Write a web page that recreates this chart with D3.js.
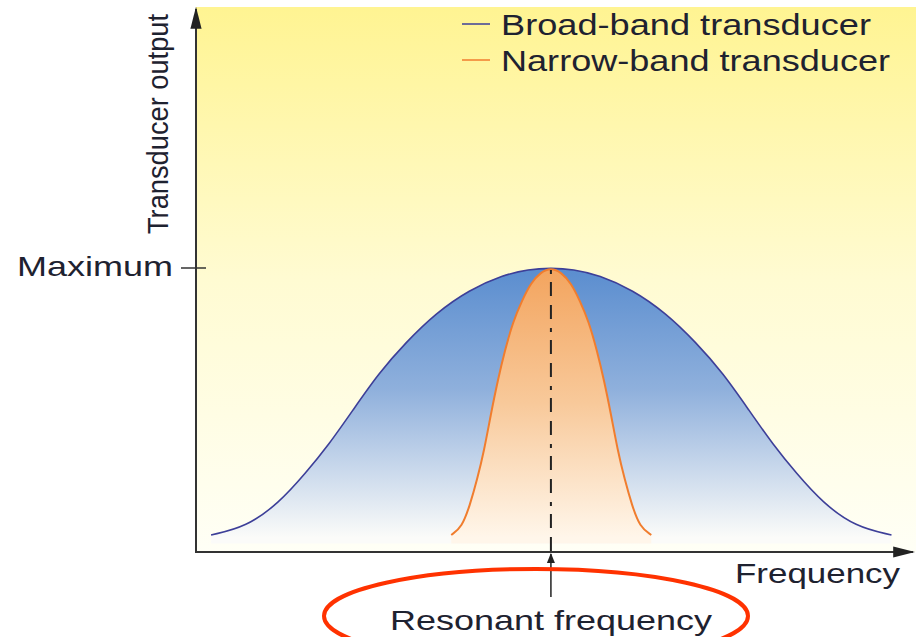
<!DOCTYPE html>
<html>
<head>
<meta charset="utf-8">
<script src="https://cdn.jsdelivr.net/npm/d3@7"></script>
<style>
  body { margin: 0; background: #fff; }
  svg { display: block; font-family: "Liberation Sans", Arial, sans-serif; }
</style>
</head>
<body>
<div id="chart"></div>
<script>
// frequency in arbitrary units (0-100), output as % of maximum
const broadFreq = [2.1, 7.0, 11.6, 15.3, 18.5, 21.9, 25.5, 29.3, 33.5, 38.1, 42.8, 46.4, 49.5, 52.6, 56.2, 60.9, 65.5, 69.7, 73.5, 77.1, 80.5, 83.7, 87.4, 92.0, 97.0];
const broadOutput = [6.0, 8.8, 17.3, 27.8, 37.7, 50.0, 63.0, 73.9, 84.2, 92.3, 97.5, 99.6, 100, 99.6, 97.5, 92.3, 84.2, 73.9, 63.0, 50.0, 37.7, 27.8, 17.3, 8.8, 6.0];
const narrowFreq = [35.6, 37.1, 38.2, 39.2, 40.2, 41.1, 42.1, 43.1, 44.2, 45.5, 46.7, 48.1, 49.5, 50.9, 52.3, 53.5, 54.8, 55.9, 56.9, 57.9, 58.8, 59.8, 60.8, 61.9, 63.5];
const narrowOutput = [6.0, 8.8, 16.5, 25.4, 35.9, 48.2, 60.6, 71.1, 81.0, 88.7, 94.7, 98.6, 100, 98.6, 94.7, 88.7, 81.0, 71.1, 60.6, 48.2, 35.9, 25.4, 16.5, 8.8, 6.0];
const resonantFreq = 49.5;
const maxOutput = 100;
const seriesNames = ["Broad-band transducer", "Narrow-band transducer"];
const xLabel = "Frequency";
const yLabel = "Transducer output";
const xTickLabel = "Resonant frequency";
const yTickLabel = "Maximum";

const width = 921, height = 637;
const svg = d3.select("#chart").append("svg")
  .attr("width", width).attr("height", height);

const x = d3.scaleLinear().domain([0, 100]).range([196, 913]);
const y = d3.scaleLinear().domain([0, 100]).range([552, 268]);

const broad = broadFreq.map((f, i) => ({ f, v: broadOutput[i] }));
const narrow = narrowFreq.map((f, i) => ({ f, v: narrowOutput[i] }));

const defs = svg.append("defs");
function vGrad(id, y1, y2, stops) {
  const g = defs.append("linearGradient").attr("id", id)
    .attr("gradientUnits", "userSpaceOnUse")
    .attr("x1", 0).attr("x2", 0).attr("y1", y1).attr("y2", y2);
  stops.forEach(([o, c]) => g.append("stop").attr("offset", o).attr("stop-color", c));
}
vGrad("bg", 7, 552, [[0, "#fff492"], [0.5, "#fffbd2"], [1, "#fffff6"]]);
vGrad("broadFill", y(maxOutput), y(5), [[0, "#5a8dcf"], [0.45, "#8fb0dc"], [1, "#fbfbf9"]]);
vGrad("narrowFill", y(maxOutput), y(5), [[0, "#f3a45e"], [0.5, "#f8c99a"], [1, "#fff6ea"]]);
defs.append("marker").attr("id", "arrow")
  .attr("viewBox", "0 0 10 10").attr("refX", 9).attr("refY", 5)
  .attr("markerWidth", 10).attr("markerHeight", 10)
  .attr("markerUnits", "userSpaceOnUse").attr("orient", "auto")
  .append("path").attr("d", "M0,1L10,5L0,9Z").attr("fill", "#222");
defs.append("marker").attr("id", "arrowBig")
  .attr("viewBox", "0 0 10 10").attr("refX", 9).attr("refY", 5)
  .attr("markerWidth", 22).attr("markerHeight", 14)
  .attr("markerUnits", "userSpaceOnUse").attr("orient", "auto")
  .attr("preserveAspectRatio", "none")
  .append("path").attr("d", "M0,1L10,5L0,9Z").attr("fill", "#222");

// background panel
svg.append("rect")
  .attr("x", x(0)).attr("y", 7)
  .attr("width", 916 - x(0)).attr("height", y(0) - 7)
  .attr("fill", "url(#bg)");

const curve = d3.curveBasis;
const line = d3.line().curve(curve).x(d => x(d.f)).y(d => y(d.v));
const area = d3.area().curve(curve).x(d => x(d.f)).y0(y(3)).y1(d => y(d.v));

svg.append("path").datum(broad).attr("d", area).attr("fill", "url(#broadFill)");
svg.append("path").datum(broad).attr("d", line)
  .attr("fill", "none").attr("stroke", "#3d3f98").attr("stroke-width", 1.6);

svg.append("path").datum(narrow).attr("d", area).attr("fill", "url(#narrowFill)");
svg.append("path").datum(narrow).attr("d", line)
  .attr("fill", "none").attr("stroke", "#f07d2e").attr("stroke-width", 2);

// resonant frequency marker
svg.append("line")
  .attr("x1", x(resonantFreq)).attr("x2", x(resonantFreq))
  .attr("y1", y(maxOutput) + 2).attr("y2", y(0))
  .attr("stroke", "#222").attr("stroke-width", 2)
  .attr("stroke-dasharray", "4,8,14,9,14,9");
svg.append("line")
  .attr("x1", x(resonantFreq)).attr("x2", x(resonantFreq))
  .attr("y1", 597).attr("y2", y(0) + 2)
  .attr("stroke", "#222").attr("stroke-width", 1.5)
  .attr("marker-end", "url(#arrow)");

// axes
svg.append("line")
  .attr("x1", x(0)).attr("x2", x(0))
  .attr("y1", y(0) + 1).attr("y2", 9)
  .attr("stroke", "#333").attr("stroke-width", 2)
  .attr("marker-end", "url(#arrowBig)");
svg.append("line")
  .attr("x1", x(0) - 1).attr("x2", x(100))
  .attr("y1", y(0)).attr("y2", y(0))
  .attr("stroke", "#333").attr("stroke-width", 2)
  .attr("marker-end", "url(#arrowBig)");

// max tick
svg.append("line")
  .attr("x1", x(0) - 15).attr("x2", x(0) + 10)
  .attr("y1", y(maxOutput)).attr("y2", y(maxOutput))
  .attr("stroke", "#333").attr("stroke-width", 1.5);

const txt = "#1e2230";
function label(xp, yp, str, len, anchor, size) {
  return svg.append("text")
    .attr("x", xp).attr("y", yp)
    .attr("text-anchor", anchor).attr("font-size", size).attr("fill", txt)
    .attr("textLength", len).attr("lengthAdjust", "spacingAndGlyphs")
    .text(str);
}
label(x(0) - 23, y(maxOutput) + 8, yTickLabel, 156, "end", 28);
label(900, 583, xLabel, 165, "end", 28);
label(x(resonantFreq), 630, xTickLabel, 322, "middle", 28);

svg.append("text")
  .attr("transform", `translate(${x(0) - 28},124) rotate(-90)`)
  .attr("text-anchor", "middle").attr("font-size", 29).attr("fill", txt)
  .attr("textLength", 220).attr("lengthAdjust", "spacingAndGlyphs")
  .text(yLabel);

// highlight ellipse
svg.append("ellipse")
  .attr("cx", 536).attr("cy", 616).attr("rx", 212).attr("ry", 47)
  .attr("fill", "none").attr("stroke", "#ff3200").attr("stroke-width", 4);

// legend
const legendColors = ["#3d3f98", "#f07d2e"];
const legendLens = [370, 389];
seriesNames.forEach((name, i) => {
  const ly = 24 + i * 36;
  svg.append("line")
    .attr("x1", 462).attr("x2", 490).attr("y1", ly).attr("y2", ly)
    .attr("stroke", legendColors[i]).attr("stroke-width", 1.5);
  label(501, ly + 11, name, legendLens[i], "start", 29);
});
</script>
</body>
</html>
